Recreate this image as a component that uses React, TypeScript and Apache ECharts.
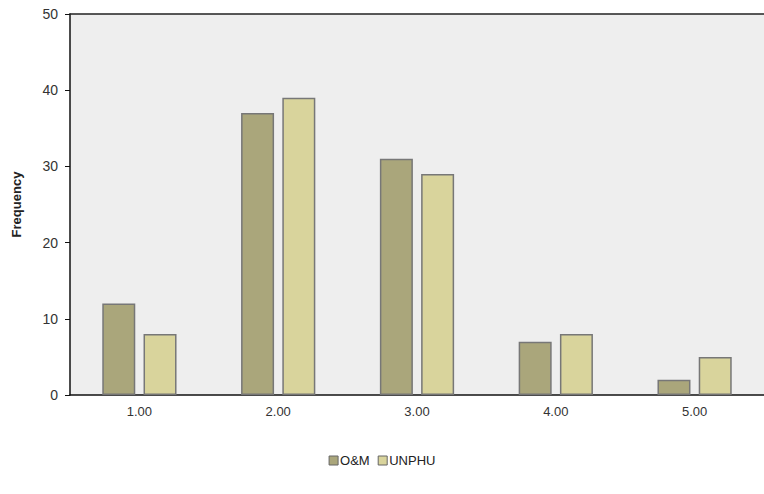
import React, { useEffect, useRef } from "react";
import * as echarts from "echarts";

const categories = ["1.00", "2.00", "3.00", "4.00", "5.00"];
const omValues = [12, 37, 31, 7, 2];
const unphuValues = [8, 39, 29, 8, 5];
const yTicks = { min: 0, max: 50, interval: 10 };

export default function App() {
  const ref = useRef<HTMLDivElement>(null);
  useEffect(() => {
    if (!ref.current) return;
    const chart = echarts.init(ref.current, undefined, { renderer: "svg" });
    const font = "Liberation Sans, Arial, sans-serif";
    chart.setOption({
      animation: false,
      backgroundColor: "#ffffff",
      textStyle: { fontFamily: font },
      grid: {
        left: 70,
        right: 0,
        top: 14,
        bottom: 99,
        show: true,
        backgroundColor: "#eeeeee",
        borderWidth: 0,
      },
      legend: {
        bottom: 22,
        left: "center",
        itemWidth: 9,
        itemHeight: 9,
        itemGap: 8,
        icon: "rect",
        textStyle: { fontSize: 13, color: "#222", fontFamily: font, padding: [0, 0, 0, -3] },
        data: [
          { name: "O&M", itemStyle: { borderColor: "#666", borderWidth: 1 } },
          { name: "UNPHU", itemStyle: { borderColor: "#666", borderWidth: 1 } },
        ],
      },
      xAxis: [
        {
          type: "category",
          data: categories,
          position: "bottom",
          axisLine: { lineStyle: { color: "#111", width: 1.5 } },
          axisTick: { alignWithLabel: true, length: 4, lineStyle: { color: "#111" } },
          axisLabel: { fontSize: 13, color: "#333", margin: 10 },
        },
        {
          type: "category",
          data: categories,
          position: "top",
          axisLine: { lineStyle: { color: "#222", width: 1.5 } },
          axisTick: { show: false },
          axisLabel: { show: false },
        },
      ],
      yAxis: {
        type: "value",
        min: yTicks.min,
        max: yTicks.max,
        interval: yTicks.interval,
        name: "Frequency",
        nameLocation: "middle",
        nameGap: 47,
        nameTextStyle: { fontSize: 13, fontWeight: "bold", color: "#222" },
        axisLine: { show: true, lineStyle: { color: "#111", width: 1.5 } },
        axisTick: { show: true, length: 5, lineStyle: { color: "#111" } },
        axisLabel: { fontSize: 14, color: "#333", margin: 12 },
        splitLine: { show: false },
      },
      series: [
        {
          name: "O&M",
          type: "bar",
          data: omValues,
          barWidth: 33,
          barGap: "25%",
          itemStyle: { color: "#aaa67b", borderColor: "#777", borderWidth: 1.5 },
        },
        {
          name: "UNPHU",
          type: "bar",
          data: unphuValues,
          barWidth: 33,
          barGap: "25%",
          itemStyle: { color: "#d9d49c", borderColor: "#777", borderWidth: 1.5 },
        },
      ],
    });
    return () => chart.dispose();
  }, []);
  return <div ref={ref} style={{ width: 764, height: 494, position: "absolute", left: 0, top: 0 }} />;
}
